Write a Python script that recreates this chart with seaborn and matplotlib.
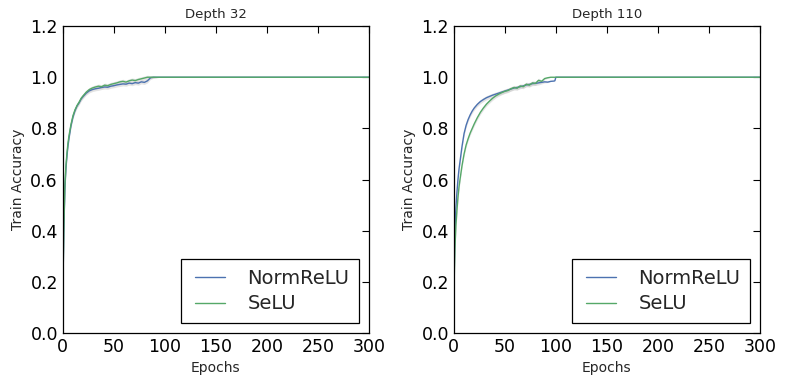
import numpy as np
import pandas as pd
import seaborn as sns
import matplotlib.pyplot as plt
from matplotlib.legend_handler import HandlerLine2D

epochs = [0, 1, 2, 3, 4, 5, 6, 8, 10, 12, 14, 16, 18, 20,
          23, 26, 29, 32, 35, 38, 41, 44, 47, 50,
          53, 56, 59, 62, 65, 68, 71, 74, 77, 80,
          83, 86, 89, 92, 95, 98, 99, 100,
          150, 200, 250, 300]

d32_normrelu = [0.15, 0.40, 0.56, 0.64, 0.69, 0.73, 0.76, 0.81, 0.845, 0.87, 0.888, 0.90, 0.915, 0.925,
                0.938, 0.947, 0.952, 0.955, 0.957, 0.960, 0.962, 0.961, 0.965, 0.967,
                0.970, 0.972, 0.974, 0.973, 0.977, 0.975, 0.979, 0.977, 0.982, 0.980,
                0.986, 0.998, 1.0, 1.0, 1.0, 1.0, 1.0, 1.0,
                1.0, 1.0, 1.0, 1.0]
d32_selu = [0.15, 0.41, 0.57, 0.65, 0.70, 0.74, 0.77, 0.815, 0.85, 0.873, 0.89, 0.903, 0.918, 0.928,
            0.942, 0.952, 0.958, 0.962, 0.965, 0.963, 0.969, 0.967, 0.972, 0.975,
            0.978, 0.982, 0.984, 0.981, 0.986, 0.989, 0.987, 0.991, 0.994, 0.997,
            1.0, 1.0, 1.0, 1.0, 1.0, 1.0, 1.0, 1.0,
            1.0, 1.0, 1.0, 1.0]

d110_normrelu = [0.15, 0.40, 0.49, 0.55, 0.60, 0.64, 0.67, 0.73, 0.78, 0.812, 0.835, 0.853, 0.868, 0.88,
                 0.894, 0.905, 0.913, 0.920, 0.925, 0.930, 0.934, 0.938, 0.942, 0.946,
                 0.950, 0.954, 0.958, 0.960, 0.963, 0.966, 0.970, 0.972, 0.975, 0.976,
                 0.978, 0.980, 0.982, 0.981, 0.984, 0.985, 0.986, 1.0,
                 1.0, 1.0, 1.0, 1.0]
d110_selu = [0.15, 0.33, 0.42, 0.48, 0.53, 0.57, 0.60, 0.655, 0.70, 0.735, 0.76, 0.782, 0.80, 0.818,
             0.842, 0.863, 0.88, 0.895, 0.907, 0.918, 0.927, 0.934, 0.940, 0.945,
             0.948, 0.955, 0.960, 0.957, 0.966, 0.963, 0.973, 0.969, 0.978, 0.976,
             0.988, 0.984, 0.995, 0.998, 1.0, 1.0, 1.0, 1.0,
             1.0, 1.0, 1.0, 1.0]

# spread of runs (shaded band), same read for both depths
spread = [0.0, 0.02, 0.02, 0.015, 0.012, 0.01, 0.01, 0.008, 0.008, 0.008, 0.008, 0.008, 0.008, 0.008,
          0.008, 0.008, 0.008, 0.008, 0.008, 0.008, 0.008, 0.008, 0.008, 0.008,
          0.008, 0.008, 0.008, 0.008, 0.008, 0.008, 0.008, 0.008, 0.008, 0.008,
          0.008, 0.006, 0.004, 0.002, 0.0, 0.0, 0.0, 0.0,
          0.0, 0.0, 0.0, 0.0]

panels = [("Depth 32", d32_normrelu, d32_selu),
          ("Depth 110", d110_normrelu, d110_selu)]
colors = {"NormReLU": "#4c72b0", "SeLU": "#55a868"}

sns.set_style("white", {"xtick.direction": "in", "ytick.direction": "in",
                        "axes.edgecolor": "black"})
plt.rcParams['font.family'] = ['DejaVu Sans']

fig, axes = plt.subplots(1, 2, figsize=(7.85, 3.84), dpi=100)
fig.subplots_adjust(left=0.080, right=0.968, top=0.932, bottom=0.133, wspace=0.278)

for ax, (title, norm, selu) in zip(axes, panels):
    df = pd.DataFrame({
        "Epochs": epochs * 2,
        "acc": norm + selu,
        "model": ["NormReLU"] * len(epochs) + ["SeLU"] * len(epochs),
    })
    for name, vals in [("NormReLU", norm), ("SeLU", selu)]:
        v = np.array(vals)
        s = np.array(spread)
        ax.fill_between(epochs, v - s, v + s, color="#c8c8c8", alpha=0.5, lw=0)
    sns.lineplot(data=df, x="Epochs", y="acc", hue="model", palette=colors,
                 linewidth=1.0, ax=ax)

    ax.set_xlim(0, 300)
    ax.set_ylim(0, 1.2)
    ax.set_xticks([0, 50, 100, 150, 200, 250, 300])
    ax.set_yticks([0.0, 0.2, 0.4, 0.6, 0.8, 1.0, 1.2])
    ax.tick_params(axis="both", which="major", labelsize=12.5, length=5, width=0.8,
                   direction="in", top=True, right=True, colors="black")
    for sp in ax.spines.values():
        sp.set_linewidth(0.9)
        sp.set_color("black")
    ax.set_title(title, fontsize=9.5)
    ax.set_xlabel("Epochs", fontsize=10)
    ax.set_ylabel("Train Accuracy", fontsize=10)
    handles, labels = ax.get_legend_handles_labels()
    leg = ax.legend(handles, labels, loc="lower right", fontsize=14, fancybox=False,
                    edgecolor="black", framealpha=1, handlelength=1.77, borderpad=0.5,
                    borderaxespad=0.5, handletextpad=1.13, labelspacing=0.33,
                    handler_map={h: HandlerLine2D(xpad=0.22) for h in handles})
    leg.get_frame().set_linewidth(0.9)

fig.savefig("out.png", dpi=100)
